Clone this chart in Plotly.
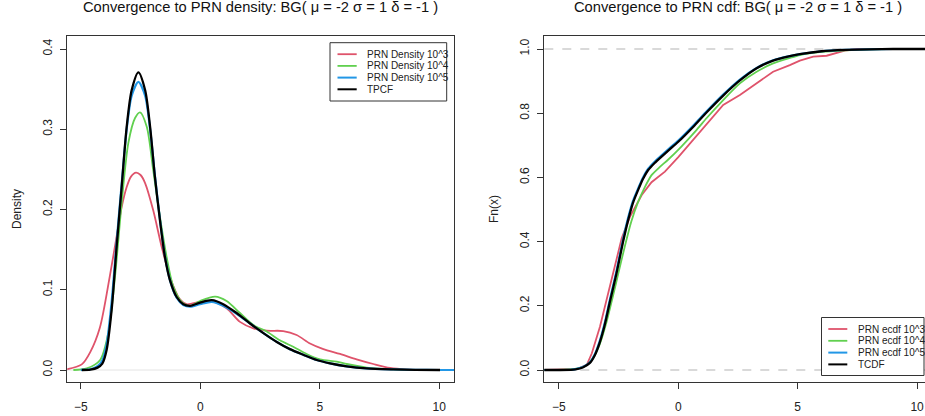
import plotly.graph_objects as go

W, H = 925, 416

# ---------------- data ----------------
# Left panel: densities
x_dens_red = [-5.6, -4.96, -4.61, -4.20, -3.78, -3.43, -3.29, -3.08, -2.90, -2.69, -2.50, -2.31,
              -1.97, -1.62, -1.27, -0.85, -0.57, -0.01, 0.48, 1.10, 1.66, 2.22, 2.78, 3.47, 4.03,
              4.59, 5.15, 5.85, 6.54, 7.24, 7.94, 8.64, 9.3]
y_dens_red = [0.0008, 0.007, 0.022, 0.053, 0.118, 0.179, 0.203, 0.228, 0.241, 0.246, 0.243, 0.233,
              0.199, 0.154, 0.116, 0.088, 0.082, 0.085, 0.086, 0.077, 0.060, 0.052, 0.049, 0.0486,
              0.0436, 0.033, 0.026, 0.020, 0.0133, 0.0075, 0.0025, 0.0005, 0.0]

x_dens_green = [-5.31, -4.75, -4.19, -3.85, -3.57, -3.29, -3.01, -2.73, -2.52, -2.24, -1.97, -1.69,
                -1.41, -1.13, -0.78, -0.43, -0.01, 0.62, 1.10, 1.66, 2.22, 2.78, 3.33, 3.89, 4.45,
                5.01, 5.71, 6.13, 6.96, 8.08, 9.2, 9.8]
y_dens_green = [0.0, 0.002, 0.0125, 0.046, 0.116, 0.208, 0.283, 0.314, 0.321, 0.303, 0.249, 0.191,
                0.141, 0.104, 0.085, 0.080, 0.086, 0.0914, 0.086, 0.071, 0.056, 0.048, 0.037, 0.029,
                0.020, 0.0133, 0.0104, 0.0075, 0.003, 0.0008, 0.0001, 0.0]

x_dens_blue = [-5.0, -4.6, -4.3, -4.1, -3.92, -3.71, -3.50, -3.29, -3.08, -2.87, -2.59, -2.31, -2.10,
               -1.90, -1.69, -1.48, -1.27, -0.99, -0.71, -0.43, -0.01, 0.48, 0.96, 1.52, 2.08, 2.64,
               3.20, 3.75, 4.31, 4.87, 5.43, 6.13, 6.96, 8.08, 9.0, 10.0, 10.7]
y_dens_blue = [0.0001, 0.001, 0.005, 0.012, 0.032, 0.085, 0.160, 0.232, 0.300, 0.342, 0.359, 0.342,
               0.300, 0.243, 0.188, 0.142, 0.112, 0.090, 0.081, 0.079, 0.082, 0.085, 0.080, 0.070,
               0.058, 0.046, 0.035, 0.026, 0.019, 0.0125, 0.0083, 0.0046, 0.002, 0.0008, 0.0003,
               0.0, 0.0]

x_dens_black = [-4.96, -4.6, -4.3, -4.1, -3.92, -3.71, -3.50, -3.29, -3.08, -2.87, -2.59, -2.31,
                -2.10, -1.90, -1.69, -1.48, -1.27, -0.99, -0.71, -0.43, -0.01, 0.48, 0.96, 1.52,
                2.08, 2.64, 3.20, 3.75, 4.31, 4.87, 5.43, 6.13, 6.96, 8.08, 9.0, 10.03]
y_dens_black = [0.0, 0.0005, 0.003, 0.008, 0.025, 0.075, 0.154, 0.228, 0.303, 0.349, 0.371, 0.349,
                0.303, 0.241, 0.187, 0.141, 0.112, 0.091, 0.082, 0.080, 0.084, 0.087, 0.082, 0.071,
                0.058, 0.046, 0.035, 0.026, 0.019, 0.0125, 0.0083, 0.0046, 0.002, 0.0008, 0.0003,
                0.0]

# Right panel: cdfs
x_cdf_red = [-5.7, -4.25, -3.83, -3.62, -3.28, -3.0, -2.72, -2.37, -2.02, -1.74, -1.53, -1.12,
             -0.56, 0.0, 0.60, 1.15, 1.88, 2.58, 3.28, 3.97, 4.67, 5.09, 5.65, 6.21, 6.97, 7.5, 10.6]
y_cdf_red = [0.0, 0.003, 0.016, 0.052, 0.135, 0.218, 0.300, 0.410, 0.478, 0.519, 0.545, 0.585,
             0.618, 0.663, 0.715, 0.766, 0.826, 0.857, 0.893, 0.929, 0.950, 0.964, 0.976, 0.979,
             0.995, 1.0, 1.0]

x_cdf_green = [-5.7, -4.75, -4.19, -3.85, -3.57, -3.29, -3.01, -2.73, -2.52, -2.24, -1.97, -1.69,
               -1.41, -1.12, -0.78, -0.43, 0.14, 0.77, 1.19, 1.88, 2.58, 3.28, 3.97, 4.67, 5.09,
               6.0, 7.0, 8.0, 9.5, 10.6]
y_cdf_green = [0.0, 0.001, 0.005, 0.015, 0.037, 0.080, 0.148, 0.232, 0.298, 0.385, 0.462, 0.522,
               0.568, 0.607, 0.632, 0.655, 0.697, 0.748, 0.785, 0.841, 0.893, 0.929, 0.955, 0.972,
               0.981, 0.991, 0.996, 0.999, 1.0, 1.0]

x_cdf_blue = [-5.7, -4.5, -4.3, -4.0, -3.7, -3.5, -3.29, -3.08, -2.87, -2.59, -2.31, -2.10, -1.90,
              -1.68, -1.48, -1.26, -0.99, -0.70, -0.35, 0.0, 0.63, 1.19, 1.88, 2.58, 3.28, 3.97,
              4.67, 5.09, 6.0, 7.0, 8.0, 9.0, 10.6]
y_cdf_blue = [0.0, 0.0006, 0.0025, 0.009, 0.024, 0.048, 0.090, 0.146, 0.217, 0.308, 0.408, 0.474,
              0.526, 0.566, 0.599, 0.627, 0.649, 0.669, 0.692, 0.715, 0.762, 0.806, 0.858, 0.905,
              0.941, 0.965, 0.978, 0.984, 0.993, 0.997, 0.999, 1.0, 1.0]

x_cdf_black = [-5.7, -4.5, -4.3, -4.0, -3.7, -3.5, -3.29, -3.08, -2.87, -2.59, -2.31, -2.10, -1.90,
               -1.68, -1.48, -1.26, -0.99, -0.70, -0.35, 0.0, 0.63, 1.19, 1.88, 2.58, 3.28, 3.97,
               4.67, 5.09, 6.0, 7.0, 8.0, 9.0, 10.6]
y_cdf_black = [0.0, 0.0005, 0.002, 0.008, 0.022, 0.045, 0.085, 0.140, 0.210, 0.300, 0.400, 0.467,
               0.520, 0.561, 0.595, 0.623, 0.645, 0.665, 0.688, 0.711, 0.758, 0.803, 0.855, 0.902,
               0.940, 0.964, 0.978, 0.984, 0.993, 0.997, 0.999, 1.0, 1.0]

dens_labels = ["PRN Density 10^3", "PRN Density 10^4", "PRN Density 10^5", "TPCF"]
cdf_labels = ["PRN ecdf 10^3", "PRN ecdf 10^4", "PRN ecdf 10^5", "TCDF"]
colors = ["#DF536B", "#61D04F", "#2297E6", "#000000"]
widths = [1.8, 1.8, 2.2, 2.3]
cdf_shapes = ["linear", "spline", "spline", "spline"]

x_ticks = [-5, 0, 5, 10]
dens_ticks = [0.0, 0.1, 0.2, 0.3, 0.4]
cdf_ticks = [0.0, 0.2, 0.4, 0.6, 0.8, 1.0]

title_left = "Convergence to PRN density: BG( \u03bc = -2 \u03c3 = 1 \u03b4 = -1 )"
title_right = "Convergence to PRN cdf: BG( \u03bc = -2 \u03c3 = 1 \u03b4 = -1 )"

# ---------------- figure ----------------
FONT = "Liberation Sans, Arial, Helvetica, sans-serif"
AX = "#333333"


def px(x):
    return x / W


def py(y):
    return 1 - y / H


fig = go.Figure()

dens = [(x_dens_red, y_dens_red), (x_dens_green, y_dens_green),
        (x_dens_blue, y_dens_blue), (x_dens_black, y_dens_black)]
cdfs = [(x_cdf_red, y_cdf_red), (x_cdf_green, y_cdf_green),
        (x_cdf_blue, y_cdf_blue), (x_cdf_black, y_cdf_black)]

for (xs, ys), lab, c, w in zip(dens, dens_labels, colors, widths):
    fig.add_trace(go.Scatter(x=xs, y=ys, mode="lines", name=lab, xaxis="x", yaxis="y",
                             line=dict(color=c, width=w, shape="spline", smoothing=0.8),
                             showlegend=False))
for (xs, ys), lab, c, w, shp in zip(cdfs, cdf_labels, colors, widths, cdf_shapes):
    line = dict(color=c, width=w, shape=shp)
    if shp == "spline":
        line["smoothing"] = 0.6
    fig.add_trace(go.Scatter(x=xs, y=ys, mode="lines", name=lab, xaxis="x2", yaxis="y2",
                             line=line, showlegend=False))

ydom = [py(382.3), py(36)]
common = dict(showgrid=False, zeroline=False, showline=True, mirror=True, linecolor=AX,
              linewidth=1, ticks="outside", ticklen=6, tickwidth=1, tickcolor=AX,
              tickfont=dict(size=12, color="#222222", family=FONT))

fig.update_layout(
    width=W, height=H,
    margin=dict(l=0, r=0, t=0, b=0),
    paper_bgcolor="white", plot_bgcolor="white",
    font=dict(family=FONT, color="#222222"),
    showlegend=False,
    xaxis=dict(domain=[px(67.3), px(454.3)], range=[-5.565, 10.628], tickvals=x_ticks,
               ticklabelstandoff=7, anchor="y", **common),
    yaxis=dict(domain=ydom, range=[-0.0153, 0.4162], tickvals=dens_ticks,
               ticktext=[f"{v:.1f}" for v in dens_ticks], tickangle=-90,
               ticklabelstandoff=4, anchor="x", **common),
    xaxis2=dict(domain=[px(544.3), 1.0], range=[-5.61, 10.33], tickvals=x_ticks,
                ticklabelstandoff=7, anchor="y2", **common),
    yaxis2=dict(domain=ydom, range=[-0.0383, 1.0405], tickvals=cdf_ticks,
                ticktext=[f"{v:.1f}" for v in cdf_ticks], tickangle=-90,
                ticklabelstandoff=4, anchor="x2", **common),
)

shapes = []
annotations = []

# reference lines
shapes.append(dict(type="line", xref="x domain", yref="y", x0=0, x1=1, y0=0, y1=0,
                   line=dict(color="#e4e4e4", width=1), layer="below"))
for v in (0, 1):
    shapes.append(dict(type="line", xref="x2 domain", yref="y2", x0=0, x1=1, y0=v, y1=v,
                       line=dict(color="#b3b3b3", width=1, dash="dash"), layer="below"))

# titles
annotations.append(dict(text=title_left, x=px(260.8), y=py(7.5), xref="paper", yref="paper",
                        xanchor="center", yanchor="middle", showarrow=False,
                        font=dict(size=14.7, color="#111111", family=FONT)))
annotations.append(dict(text=title_right, x=px(738), y=py(7.5), xref="paper", yref="paper",
                        xanchor="center", yanchor="middle", showarrow=False,
                        font=dict(size=14.7, color="#111111", family=FONT)))
# axis titles
annotations.append(dict(text="Density", x=px(17), y=py(209), xref="paper", yref="paper",
                        textangle=-90, showarrow=False, xanchor="center", yanchor="middle",
                        font=dict(size=12, color="#222222", family=FONT)))
annotations.append(dict(text="Fn(x)", x=px(494), y=py(209), xref="paper", yref="paper",
                        textangle=-90, showarrow=False, xanchor="center", yanchor="middle",
                        font=dict(size=12, color="#222222", family=FONT)))


def add_legend(box, line_x, text_x, row0, step, labels):
    x0, x1, y0, y1 = box
    shapes.append(dict(type="rect", xref="paper", yref="paper", x0=px(x0), x1=px(x1),
                       y0=py(y1), y1=py(y0), line=dict(color=AX, width=1),
                       fillcolor="white", layer="above"))
    for i, (lab, c, w) in enumerate(zip(labels, colors, widths)):
        yy = row0 + i * step
        shapes.append(dict(type="line", xref="paper", yref="paper", x0=px(line_x[0]),
                           x1=px(line_x[1]), y0=py(yy), y1=py(yy),
                           line=dict(color=c, width=min(w, 2.0)), layer="above"))
        annotations.append(dict(text=lab, x=px(text_x), y=py(yy), xref="paper", yref="paper",
                                xanchor="left", yanchor="middle", showarrow=False,
                                font=dict(size=10, color="#222222", family=FONT)))


add_legend((330, 446.7, 42.7, 101), (337.5, 356.7), 365, 54.2, 11.7, dens_labels)
add_legend((821.5, 924, 317.5, 375.5), (828.3, 847.3), 855.7, 329, 11.8, cdf_labels)

fig.update_layout(shapes=shapes, annotations=annotations)
fig.write_html("out.html", config={"displayModeBar": False},
               post_script="document.body.style.margin='0';document.body.style.overflow='hidden';")
